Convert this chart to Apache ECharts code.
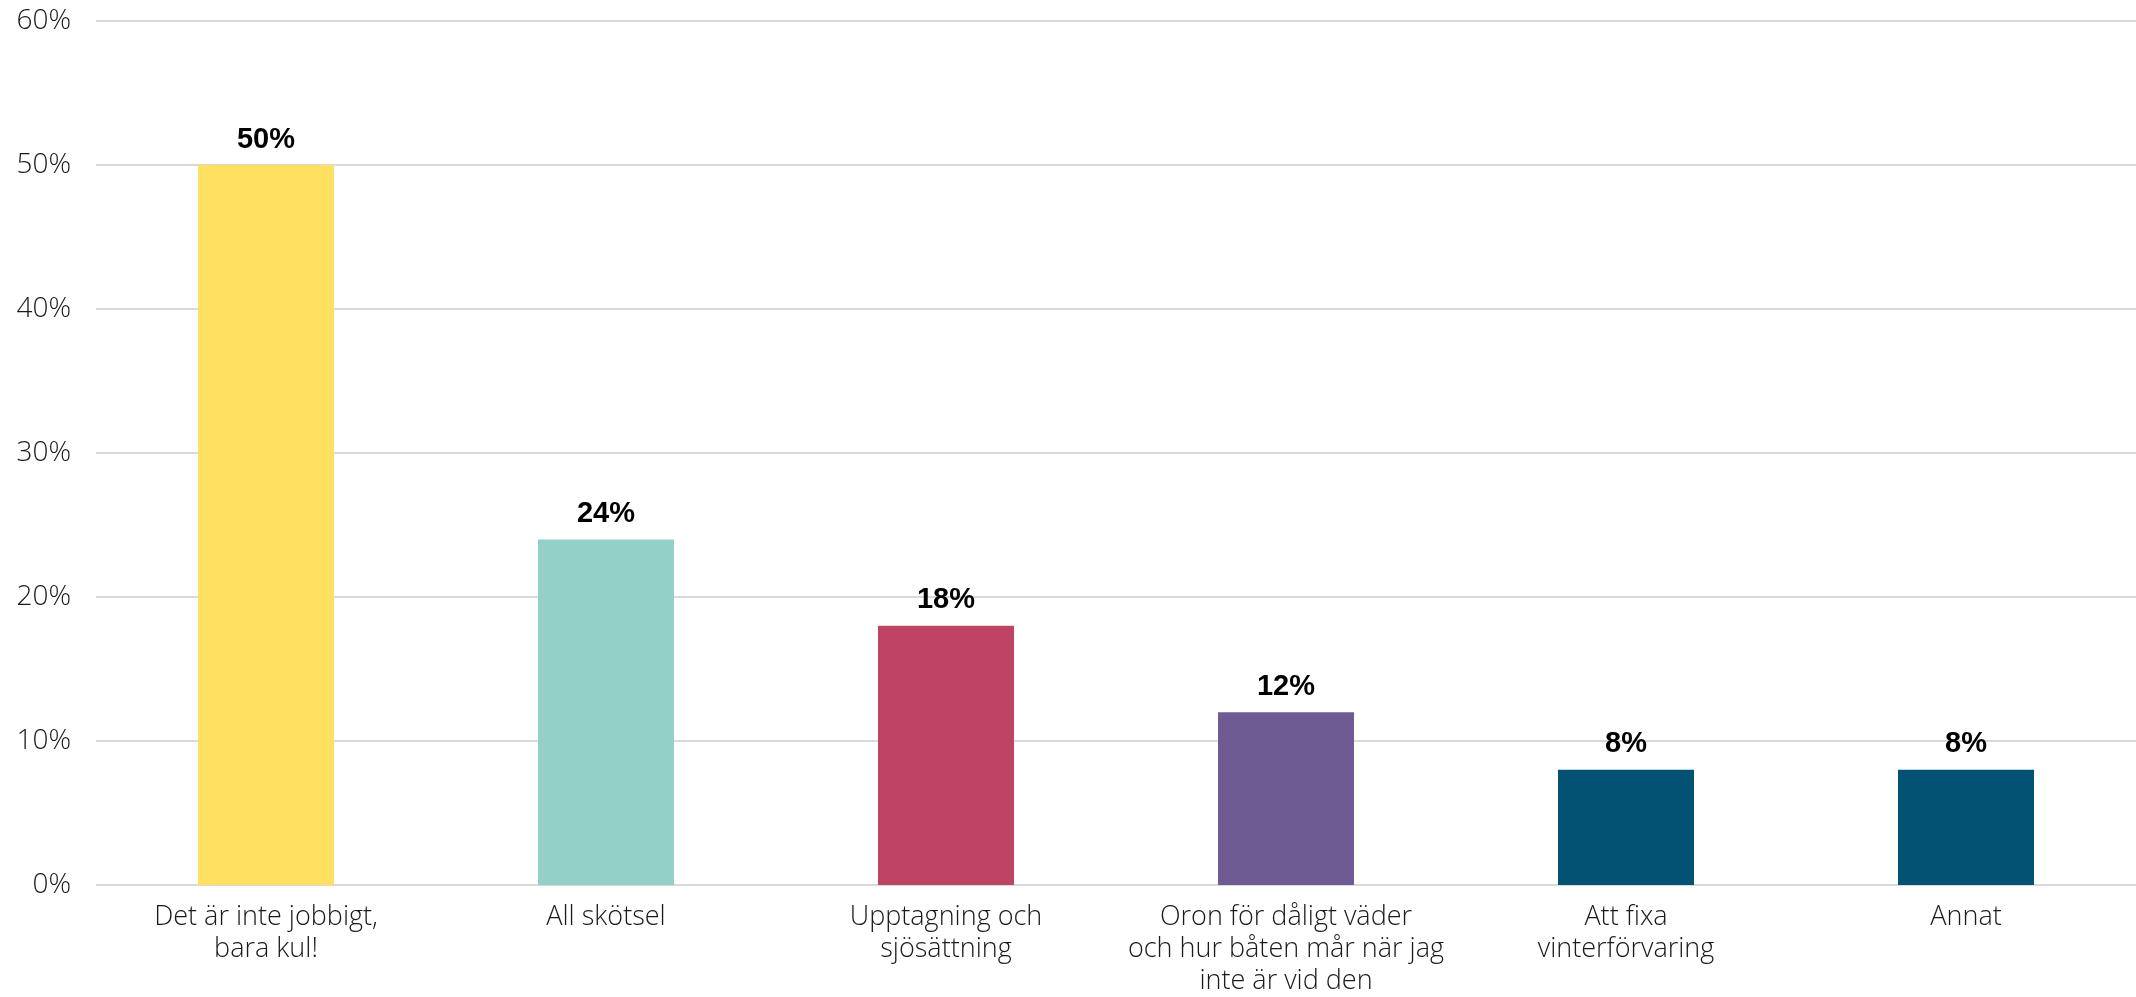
<!DOCTYPE html>
<html><head><meta charset="utf-8">
<script src="https://cdn.jsdelivr.net/npm/echarts@6/dist/echarts.min.js"></script>
<style>html,body{margin:0;padding:0;background:#fff}#c{width:2136px;height:997px}</style>
</head><body><div id="c"></div>
<script>
const categories = ["Det är inte jobbigt,\nbara kul!", "All skötsel", "Upptagning och\nsjösättning", "Oron för dåligt väder\noch hur båten mår när jag\ninte är vid den", "Att fixa\nvinterförvaring", "Annat"];
const values = [50, 24, 18, 12, 8, 8];
const barColors = ["#FFE061", "#93D0C8", "#BD4563", "#6F5B94", "#035173", "#035173"];
const yTicks = [0, 10, 20, 30, 40, 50, 60];

const chart = echarts.init(document.getElementById('c'));
chart.setOption({
  animation: false,
  grid: {left: 96, right: 0, top: 21, bottom: 101, containLabel: false},
  xAxis: {
    type: 'category', data: categories,
    axisLine: {show: false}, axisTick: {show: false},
    axisLabel: {fontFamily: 'Open Sans', fontWeight: 300, fontSize: 27, color: '#1a1a1a', lineHeight: 32, margin: 16, interval: 0}
  },
  yAxis: {
    type: 'value', min: yTicks[0], max: yTicks[yTicks.length-1], interval: 10,
    axisLine: {show: false}, axisTick: {show: false},
    splitLine: {lineStyle: {color: '#d9d9d9', width: 2}},
    axisLabel: {formatter: '{value}%', fontFamily: 'Open Sans', fontWeight: 300, fontSize: 28, color: '#1a1a1a', margin: 25}
  },
  series: [{
    type: 'bar', barWidth: '40%',
    data: values.map((v, i) => ({value: v, itemStyle: {color: barColors[i]}})),
    label: {show: true, position: 'top', distance: 11, formatter: '{c}%', fontFamily: 'Liberation Sans', fontWeight: 'bold', fontSize: 29, color: '#000'}
  }]
});
</script></body></html>
